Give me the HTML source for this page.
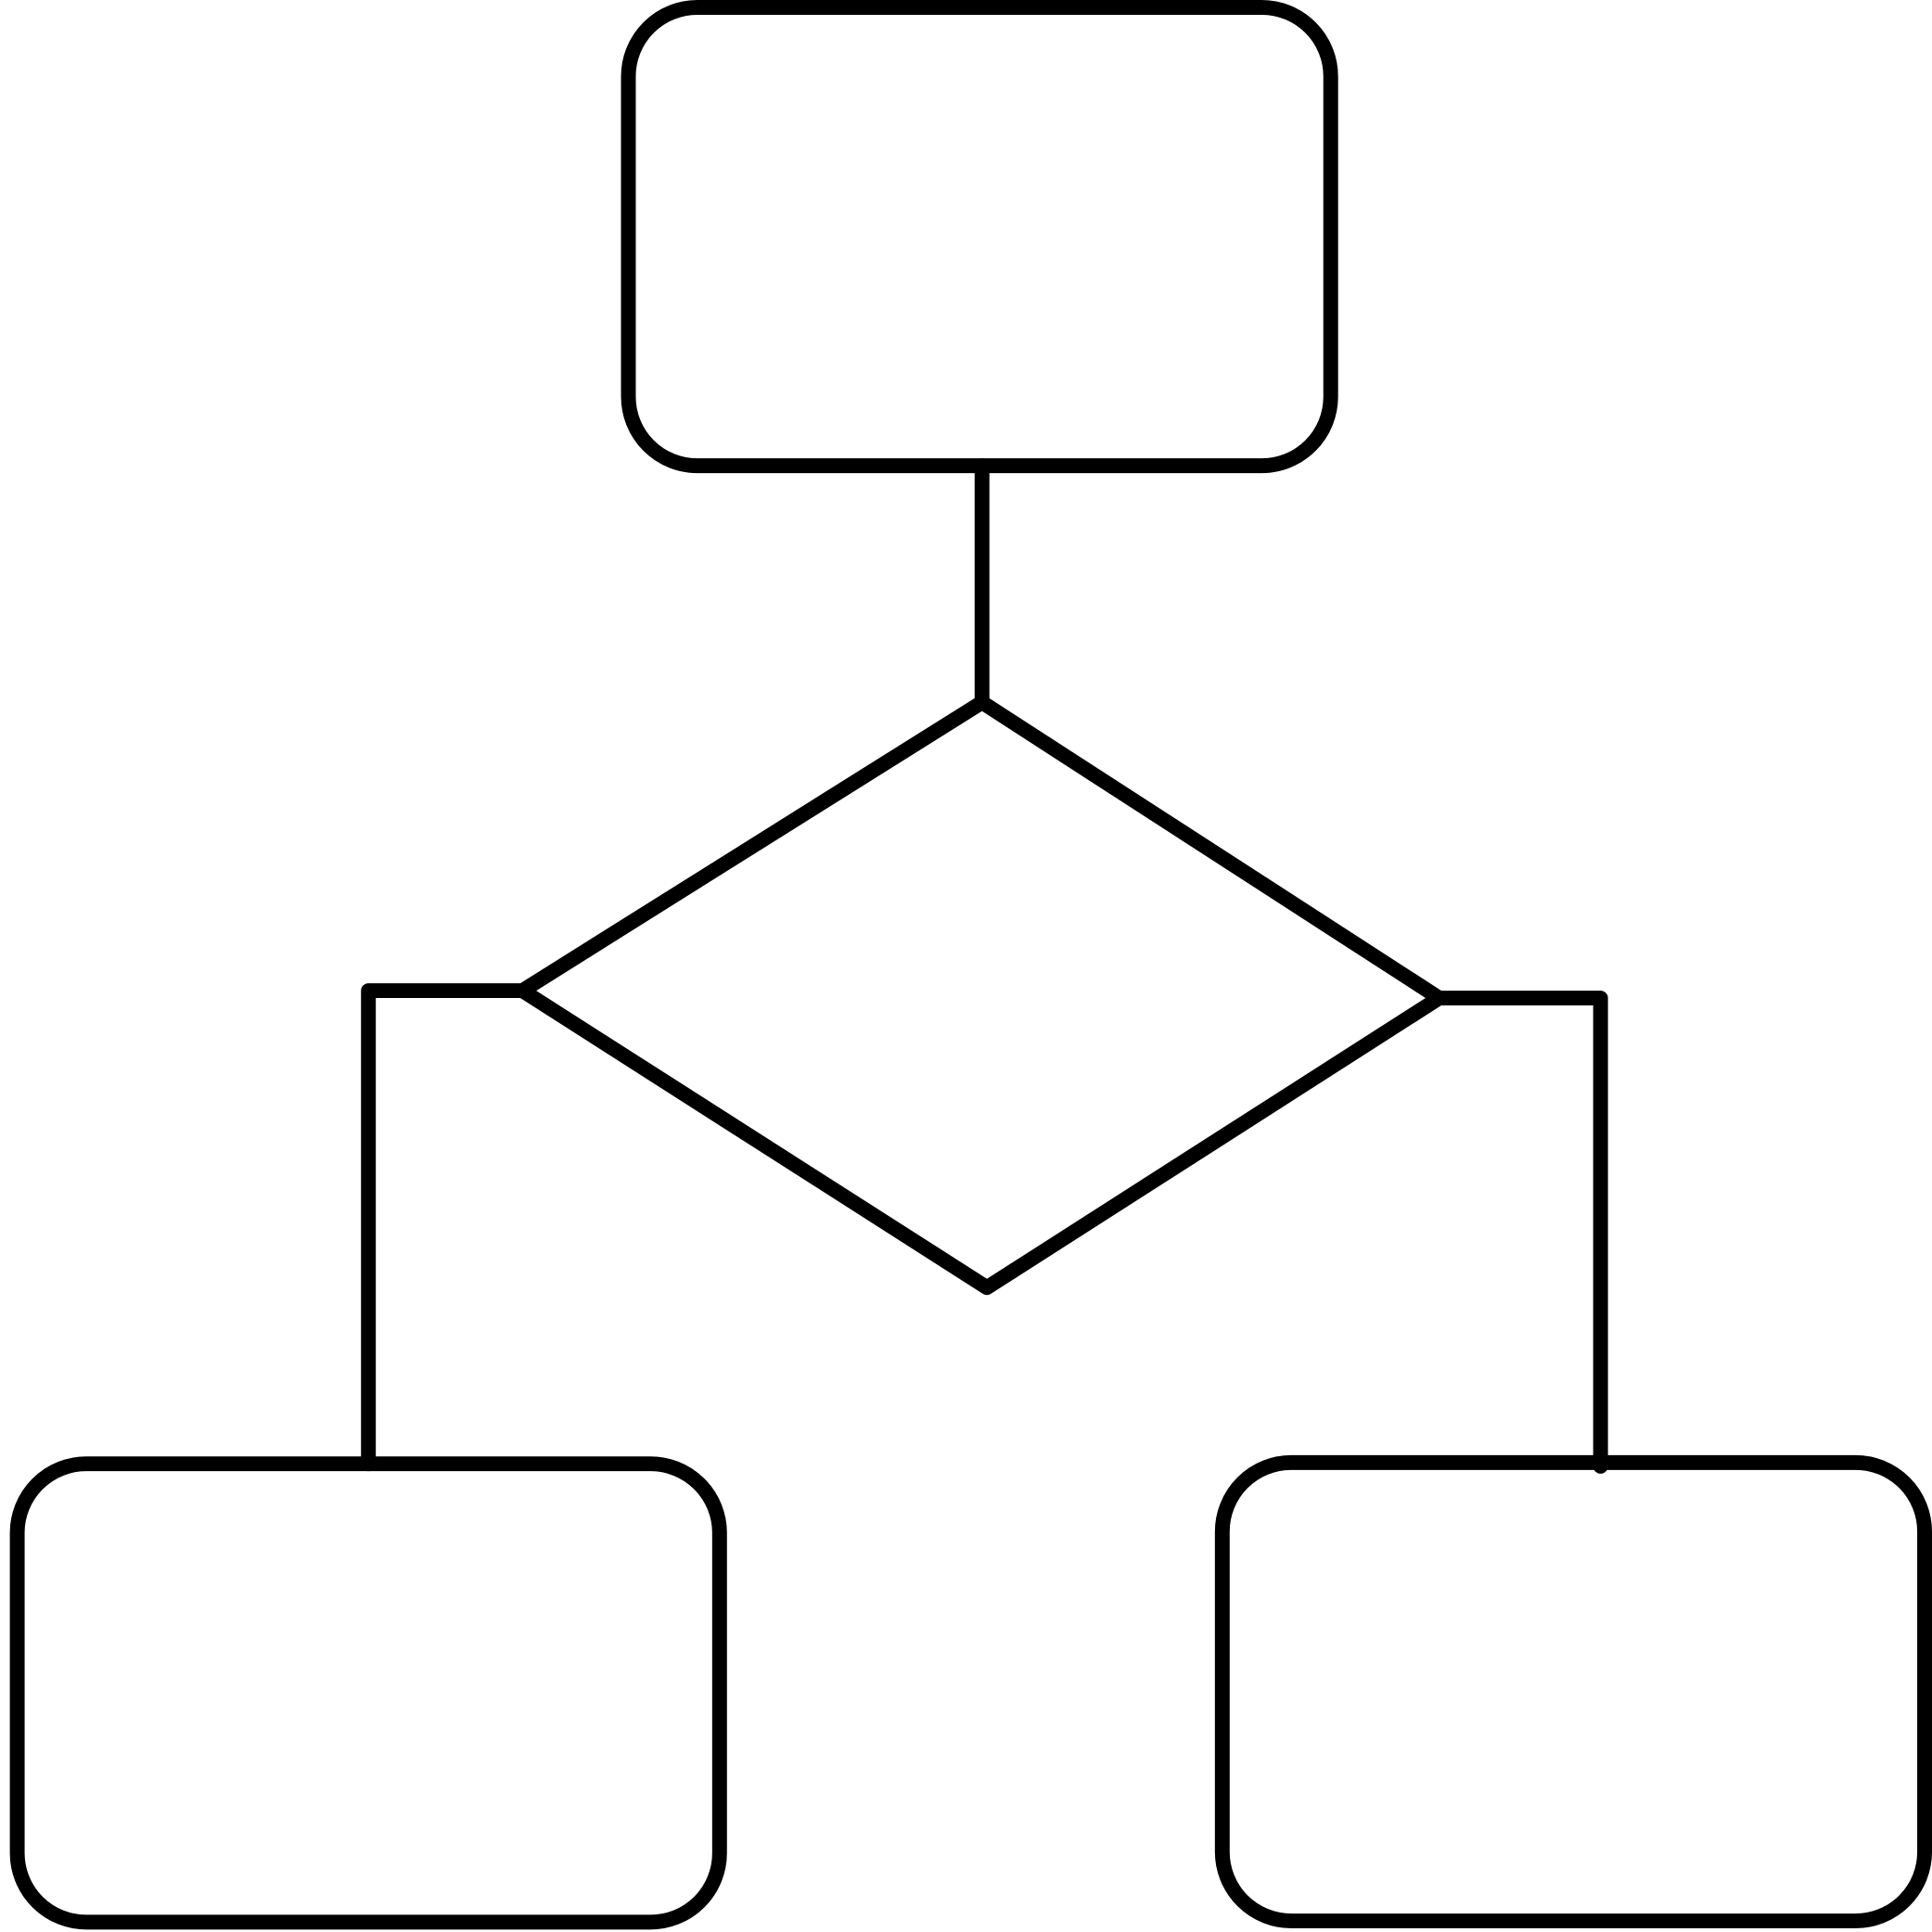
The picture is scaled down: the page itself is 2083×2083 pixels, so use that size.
<!DOCTYPE html>
<html>
<head>
<meta charset="utf-8">
<style>
html,body{margin:0;padding:0;background:#fff;}
svg{display:block;}
</style>
</head>
<body>
<svg width="2083" height="2083" viewBox="0 0 1568 1568" xmlns="http://www.w3.org/2000/svg">
  <g fill="none" stroke="#000" stroke-width="12" stroke-linejoin="round" stroke-linecap="round">
    <rect x="510" y="6" width="570" height="372" rx="56" ry="56"/>
    <line x1="797" y1="378" x2="797" y2="570"/>
    <polygon points="797,570 1168,810 801,1045 424,804"/>
    <polyline points="424,804 299,804 299,1188"/>
    <polyline points="1168,810 1299,810 1299,1190"/>
    <rect x="14" y="1188" width="570" height="372" rx="56" ry="56"/>
    <rect x="992" y="1187" width="570" height="372" rx="56" ry="56"/>
  </g>
</svg>
</body>
</html>
